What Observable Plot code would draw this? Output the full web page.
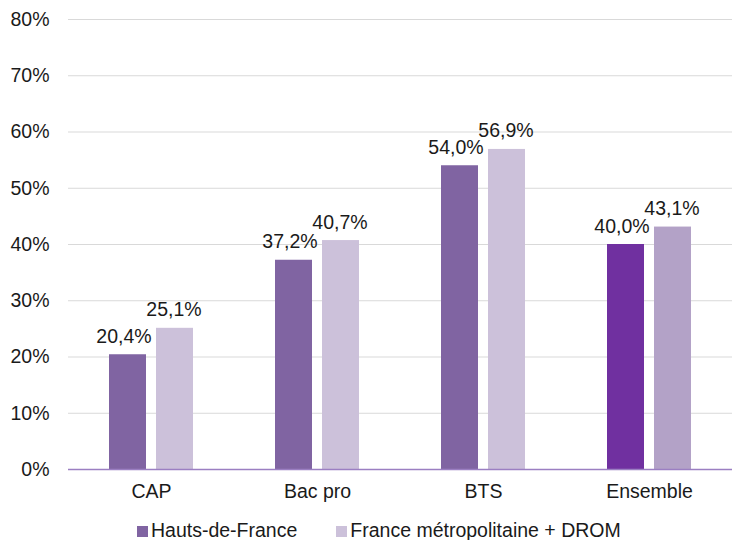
<!DOCTYPE html>
<html>
<head>
<meta charset="utf-8">
<script src="https://cdn.jsdelivr.net/npm/d3@7"></script>
<script src="https://cdn.jsdelivr.net/npm/@observablehq/plot@0.6"></script>
<style>
  body { margin: 0; background: #fff; font-family: "Liberation Sans", Arial, sans-serif; overflow: hidden; }
  #chart { width: 732px; }
  .legend { display: flex; justify-content: flex-start; padding-left: 137px; gap: 39px; font-size: 19.5px; color: #1a1a1a; height: 24px; align-items: center; margin-top: 12px; }
  .legend span.sw { display: inline-block; width: 11px; height: 11px; margin-right: 3px; vertical-align: 0px; }
</style>
</head>
<body>
<div id="chart"></div>
<script>
const categories = ["CAP", "Bac pro", "BTS", "Ensemble"];
const series = ["Hauts-de-France", "France métropolitaine + DROM"];
const hdf = [20.4, 37.2, 54.0, 40.0];
const france = [25.1, 40.7, 56.9, 43.1];
const yTicks = [0, 10, 20, 30, 40, 50, 60, 70, 80];
const colors = ["#8064A2", "#CCC1DA"];
const colorsEnsemble = ["#7030A0", "#B3A2C7"];

const data = [];
categories.forEach((c, i) => {
  [hdf, france].forEach((arr, s) => {
    data.push({
      category: c,
      series: series[s],
      s,
      value: arr[i],
      fill: c === "Ensemble" ? colorsEnsemble[s] : colors[s]
    });
  });
});

const fmt = v => v.toFixed(1).replace(".", ",") + "%";

const chart = Plot.plot({
  width: 732,
  height: 506,
  marginLeft: 67,
  marginRight: 0,
  marginTop: 19,
  marginBottom: 37,
  style: { fontFamily: "Liberation Sans, Arial, sans-serif", fontSize: "19.5px", color: "#1a1a1a" },
  fx: { domain: categories, padding: 0, axis: "bottom", label: null, tickSize: 0, tickPadding: 15 },
  x: { domain: series, axis: null, paddingInner: 0.2128, paddingOuter: 0.872 },
  y: { domain: [0, 80], ticks: yTicks, tickFormat: d => d + "%", label: null, tickSize: 0, tickPadding: 19 },
  marks: [
    Plot.gridY(yTicks, { stroke: "#d9d9d9", strokeOpacity: 1 }),
    Plot.barY(data, { fx: "category", x: "series", y: "value", fill: "fill" }),
    Plot.ruleY([0], { stroke: "#9b7fc2", strokeWidth: 1.5 }),
    Plot.text(data.filter(d => d.s === 0), {
      fx: "category", x: "series", y: "value",
      text: d => fmt(d.value),
      lineAnchor: "bottom", dy: -12, dx: -4,
      fill: "#1a1a1a", fontSize: 19.5
    }),
    Plot.text(data.filter(d => d.s === 1), {
      fx: "category", x: "series", y: "value",
      text: d => fmt(d.value),
      lineAnchor: "bottom", dy: -12, dx: -1,
      fill: "#1a1a1a", fontSize: 19.5
    })
  ]
});
document.getElementById("chart").appendChild(chart);

const legend = document.createElement("div");
legend.className = "legend";
series.forEach((s, i) => {
  const item = document.createElement("div");
  item.innerHTML = `<span class="sw" style="background:${colors[i]}"></span>${s}`;
  legend.appendChild(item);
});
document.getElementById("chart").appendChild(legend);
</script>
</body>
</html>
